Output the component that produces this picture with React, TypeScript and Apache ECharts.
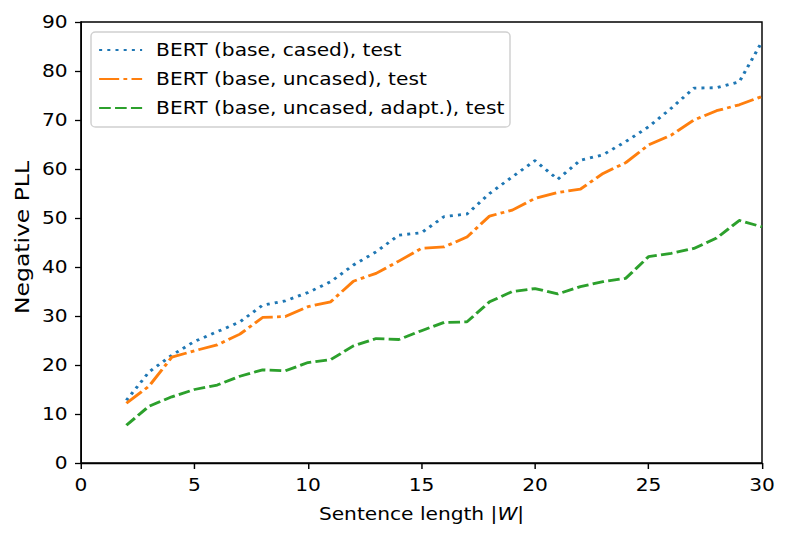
import React, { useEffect, useRef } from "react";
import * as echarts from "echarts";

const lengths = [2, 3, 4, 5, 6, 7, 8, 9, 10, 11, 12, 13, 14, 15, 16, 17, 18, 19, 20, 21, 22, 23, 24, 25, 26, 27, 28, 29, 30];
const casedTest = [12.8, 18.6, 22.0, 24.8, 26.8, 28.8, 32.2, 33.1, 34.8, 37.0, 40.4, 43.1, 46.5, 47.0, 50.3, 50.8, 55.0, 58.4, 61.7, 57.9, 61.8, 62.9, 65.6, 68.6, 72.4, 76.5, 76.6, 77.8, 86.0];
const uncasedTest = [12.2, 15.7, 21.6, 22.9, 24.1, 26.3, 29.7, 29.9, 31.9, 32.9, 37.1, 38.7, 41.2, 43.8, 44.1, 46.1, 50.4, 51.6, 54.0, 55.2, 55.9, 59.1, 61.3, 64.9, 66.9, 70.0, 71.9, 73.1, 74.8];
const adaptedTest = [7.7, 11.6, 13.5, 15.0, 15.9, 17.7, 19.0, 18.8, 20.5, 21.1, 23.9, 25.4, 25.2, 27.0, 28.7, 28.8, 32.9, 35.0, 35.6, 34.5, 36.0, 37.0, 37.7, 42.1, 42.8, 43.8, 45.9, 49.5, 48.2];
const seriesNames = [
  "BERT (base, cased), test",
  "BERT (base, uncased), test",
  "BERT (base, uncased, adapt.), test",
];
const xTitle = "Sentence length |{i|W}|";
const yTitle = "Negative PLL";
const xTicks = { min: 0, max: 30, interval: 5 };
const yTicks = { min: 0, max: 90, interval: 10 };

const FONT = "DejaVu Sans";
const FS = 18;
const LW = 2.8;
// the reference glyphs are wide; the chart is drawn narrower and scaled on X
const OUT_W = 789;
const IN_W = 704;
const SX = OUT_W / IN_W;
const hx = (v: number) => v / SX;

export default function App() {
  const ref = useRef<HTMLDivElement>(null);
  useEffect(() => {
    if (!ref.current) return;
    const chart = echarts.init(ref.current, undefined, { renderer: "svg" });
    const pair = (ys: number[]) => lengths.map((x, i) => [x, ys[i]]);
    const mk = (name: string, ys: number[], color: string, dash: number[]) => ({
      name,
      type: "line",
      data: pair(ys),
      symbol: "none",
      color,
      lineStyle: { color, width: LW, type: dash, cap: "butt", join: "round" },
    });
    chart.setOption({
      animation: false,
      backgroundColor: "#ffffff",
      textStyle: { fontFamily: FONT },
      grid: {
        left: hx(81),
        top: 22,
        right: IN_W - hx(762),
        bottom: 79,
        show: true,
        borderColor: "#000",
        borderWidth: 1.3,
        backgroundColor: "transparent",
      },
      legend: {
        orient: "vertical",
        left: hx(98),
        top: 40,
        padding: 0,
        itemWidth: hx(43),
        itemHeight: 20,
        itemGap: 9,
        itemStyle: { opacity: 0 },
        textStyle: {
          fontFamily: FONT,
          fontSize: FS,
          color: "#000",
          padding: [0, 0, 0, hx(155) - hx(141) - 5],
          lineHeight: 20,
        },
        data: seriesNames,
      },
      graphic: [
        {
          type: "rect",
          shape: { x: hx(91), y: 32, width: hx(510) - hx(91), height: 95, r: 4 },
          style: { fill: "rgba(255,255,255,0.8)", stroke: "#d0d0d0", lineWidth: 1.3 },
          z: -1,
          silent: true,
        },
        {
          type: "text",
          x: hx(22),
          y: 237.5,
          rotation: Math.PI / 2,
          scaleX: 1.34,
          style: {
            text: yTitle,
            fontFamily: FONT,
            fontSize: 17.5,
            fill: "#000",
            textAlign: "center",
            textVerticalAlign: "middle",
          },
          silent: true,
        },
      ],
      xAxis: {
        type: "value",
        min: xTicks.min,
        max: xTicks.max,
        interval: xTicks.interval,
        name: xTitle,
        nameLocation: "middle",
        nameGap: 42,
        nameTextStyle: {
          fontFamily: FONT,
          fontSize: FS,
          color: "#000",
          rich: { i: { fontStyle: "italic", fontFamily: FONT, fontSize: FS, color: "#000" } },
        },
        splitLine: { show: false },
        axisLine: { show: true, lineStyle: { color: "#000", width: 1.3 } },
        axisTick: { show: true, inside: false, length: 6, lineStyle: { color: "#000", width: 1.3 } },
        axisLabel: { color: "#000", fontSize: FS, fontFamily: FONT, margin: 13 },
      },
      yAxis: {
        type: "value",
        min: yTicks.min,
        max: yTicks.max,
        interval: yTicks.interval,
        splitLine: { show: false },
        axisLine: { show: true, lineStyle: { color: "#000", width: 1.3 } },
        axisTick: { show: true, inside: false, length: hx(6), lineStyle: { color: "#000", width: 1.3 } },
        axisLabel: { color: "#000", fontSize: FS, fontFamily: FONT, margin: 12 },
      },
      series: [
        mk(seriesNames[0], casedTest, "#1f77b4", [2.7, 4.6]),
        mk(seriesNames[1], uncasedTest, "#ff7f0e", [17.9, 3.8, 3.4, 3.8]),
        mk(seriesNames[2], adaptedTest, "#2ca02c", [10.4, 3.8]),
      ],
    });
    return () => chart.dispose();
  }, []);
  return (
    <div style={{ position: "fixed", left: 0, top: 0, width: OUT_W, height: 542, background: "#fff", overflow: "hidden" }}>
      <div
        ref={ref}
        style={{
          width: IN_W,
          height: 542,
          transform: `scaleX(${SX})`,
          transformOrigin: "0 0",
        }}
      />
    </div>
  );
}
